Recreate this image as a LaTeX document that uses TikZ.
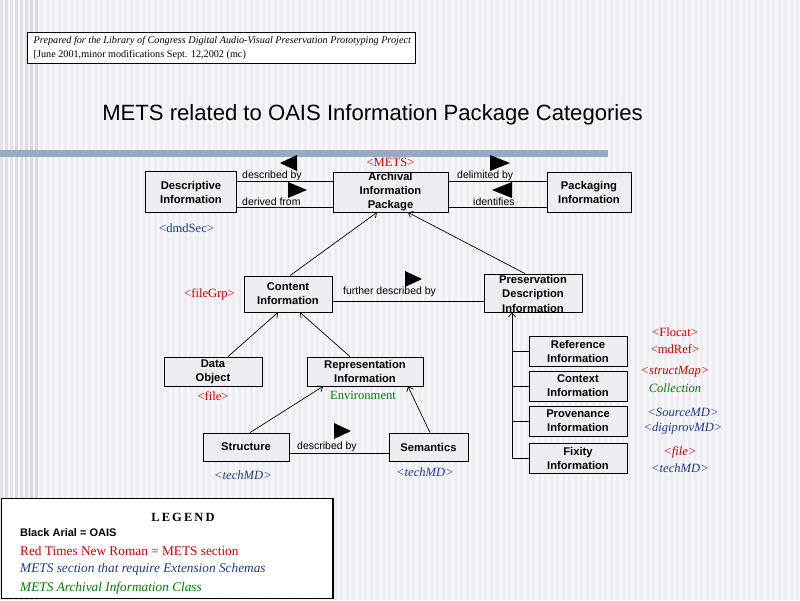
\documentclass[tikz,border=0pt]{standalone}
\usepackage{fontspec}
\setmainfont{Liberation Serif}
\newfontfamily\arialf{Liberation Sans}
\newfontfamily\tnrf{Liberation Serif}
\usetikzlibrary{arrows.meta}
\definecolor{bgbase}{RGB}{246,246,248}
\definecolor{bgstripe}{RGB}{238,238,242}
\definecolor{leftstripe}{RGB}{214,214,219}
\definecolor{barblue}{RGB}{150,170,200}
\definecolor{boxfill}{RGB}{238,238,242}
\definecolor{metsred}{RGB}{204,0,0}
\definecolor{extblue}{RGB}{31,56,140}
\definecolor{aicgreen}{RGB}{0,128,0}
\tikzset{
  oaisbox/.style={draw=black, fill=boxfill, line width=0.8pt, inner sep=0pt, align=center,
    font=\arialf\bfseries\fontsize{11.2}{14}\selectfont},
  boxtext/.style={inner sep=0pt, align=center, font=\arialf\bfseries\fontsize{11.2}{14.5}\selectfont},
  rellabel/.style={inner sep=0pt, anchor=west, font=\arialf\fontsize{10.5}{12}\selectfont},
  conn/.style={draw=black, line width=0.8pt},
  isa/.style={draw=black, line width=0.7pt, -{Straight Barb[length=4pt,width=7pt]}},
  dirtri/.style={fill=black},
  metsup/.style={inner sep=0pt, text=metsred, font=\tnrf\fontsize{12.6}{14}\selectfont},
  metsit/.style={inner sep=0pt, text=metsred, font=\tnrf\itshape\fontsize{12.6}{14}\selectfont},
  extit/.style={inner sep=0pt, text=extblue, font=\tnrf\itshape\fontsize{12.6}{14}\selectfont},
  extup/.style={inner sep=0pt, text=extblue, font=\tnrf\fontsize{12.6}{14}\selectfont},
  aicup/.style={inner sep=0pt, text=aicgreen, font=\tnrf\fontsize{12.6}{14}\selectfont},
  aicit/.style={inner sep=0pt, text=aicgreen, font=\tnrf\itshape\fontsize{12.6}{14}\selectfont},
}
\begin{document}
\begin{tikzpicture}[x=1pt,y=-1pt]
\useasboundingbox (0,0) rectangle (800,600);
% background
\fill[bgbase] (0,0) rectangle (800,600);
\foreach \x in {40,46,...,798} \fill[bgstripe] (\x,0) rectangle (\x+3,600);
\foreach \x/\c in {0/60,5/70,10/55,15/75,20/65,25/80,30/85,35/90}
  \fill[leftstripe!\c!bgbase] (\x,0) rectangle (\x+3,600);
% header box
\draw[fill=white, line width=0.8pt] (27,32) rectangle (415,63);
\node[inner sep=0pt, anchor=west, font=\tnrf\itshape\fontsize{10.2}{12}\selectfont] (hdr1) at (33.5,41.5)
  {Prepared for the Library of Congress Digital Audio-Visual Preservation Prototyping Project};
\node[inner sep=0pt, anchor=west, font=\tnrf\fontsize{10.2}{12}\selectfont] (hdr2) at (33.5,54.5)
  {[June 2001,minor modifications Sept. 12,2002 (mc)};
% title
\node[inner sep=0pt, font=\arialf\fontsize{22.1}{26}\selectfont] (title) at (372.5,115)
  {METS related to OAIS Information Package Categories};
% blue bar
\fill[barblue] (0,150) rectangle (608,157);
% boxes
\node[oaisbox, minimum width=91pt, minimum height=41pt] (desc) at (191,192) {Descriptive\\Information};
\node[oaisbox, minimum width=115pt, minimum height=40pt] (aip) at (390.5,192) {Archival\\Information\\Package};
\node[oaisbox, minimum width=84pt, minimum height=40pt] (pack) at (589,192) {Packaging\\Information};
\node[oaisbox, minimum width=88pt, minimum height=36pt] (ci) at (288,294) {Content\\Information};
\node[oaisbox, minimum width=98pt, minimum height=38pt] (pdi) at (533,293) {};
\node[boxtext] (pditext) at (533,293.5) {Preservation\\Description\\Information};
\node[oaisbox, minimum width=98pt, minimum height=29pt] (do) at (213,371.5) {Data\\Object};
\node[oaisbox, minimum width=116pt, minimum height=29pt] (ri) at (365,371.5) {Representation\\Information};
\node[oaisbox, minimum width=86pt, minimum height=28pt] (st) at (246,447) {Structure};
\node[oaisbox, minimum width=79pt, minimum height=28pt] (se) at (428.5,447) {Semantics};
\node[oaisbox, minimum width=98pt, minimum height=30pt] (ref) at (578,351) {Reference\\Information};
\node[oaisbox, minimum width=98pt, minimum height=30pt] (ctx) at (578,386) {Context\\Information};
\node[oaisbox, minimum width=98pt, minimum height=30pt] (prov) at (578,421) {Provenance\\Information};
\node[oaisbox, minimum width=98pt, minimum height=30pt] (fix) at (578,458) {Fixity\\Information};
% association lines
\draw[conn] ([yshift=11pt]desc.east) -- ([yshift=11pt]aip.west);
\draw[conn] ([yshift=-15pt]desc.east) -- ([yshift=-15pt]aip.west);
\draw[conn] ([yshift=11pt]aip.east) -- ([yshift=11pt]pack.west);
\draw[conn] ([yshift=-15pt]aip.east) -- ([yshift=-15pt]pack.west);
\draw[conn] ([yshift=-7pt]ci.east) -- ([yshift=-8pt]pdi.west);
\draw[conn] ([yshift=-6pt]st.east) -- ([yshift=-6pt]se.west);
% relation labels
\node[rellabel] (lbdesc) at (242,175.5) {described by};
\node[rellabel] (lbderiv) at (242,202) {derived from};
\node[rellabel] (lbdelim) at (457,175.5) {delimited by};
\node[rellabel] (lbident) at (473,202) {identifies};
\node[rellabel] (lbfurther) at (343,292) {further described by};
\node[rellabel] (lbdesc2) at (297,447) {described by};
% direction triangles
\fill[dirtri] (280,163) -- (297,155) -- (297,171) -- cycle;
\fill[dirtri] (288,182) -- (288,198) -- (307,190) -- cycle;
\fill[dirtri] (490,155) -- (490,171) -- (510,163) -- cycle;
\fill[dirtri] (492,190) -- (512,182) -- (512,198) -- cycle;
\fill[dirtri] (405,271) -- (405,287) -- (422,279) -- cycle;
\fill[dirtri] (334,423) -- (334,439) -- (351,431) -- cycle;
% generalisation / aggregation arrows
\draw[isa] ([xshift=2pt]ci.north) -- ([xshift=-13.5pt]aip.south);
\draw[isa] ([xshift=-8pt]pdi.north) -- ([xshift=17.5pt]aip.south);
\draw[isa] ([xshift=15pt]do.north) -- ([xshift=-10pt]ci.south);
\draw[isa] ([xshift=-15pt]ri.north) -- ([xshift=12pt]ci.south);
\draw[isa] ([xshift=4pt]st.north) -- ([xshift=-42pt]ri.south);
\draw[isa] ([xshift=1.5pt]se.north) -- ([xshift=43pt]ri.south);
% tree under PDI
\coordinate (trunk) at (512,458);
\draw[isa] (fix.west) -| ([xshift=-21pt]pdi.south);
\draw[conn, line width=0.7pt] (ref.west) -- (ref.west -| trunk);
\draw[conn, line width=0.7pt] (ctx.west) -- (ctx.west -| trunk);
\draw[conn, line width=0.7pt] (prov.west) -- (prov.west -| trunk);
% METS labels
\node[metsup] (mets) at (390.5,162) {<METS>};
\node[extup, anchor=west] (dmd) at (159,228) {<dmdSec>};
\node[metsup, anchor=west] (filegrp) at (184,294) {<fileGrp>};
\node[metsup] (file1) at (213,396) {<file>};
\node[aicup] (env) at (363,395.5) {Environment};
\node[extit] (tech1) at (243,475) {<techMD>};
\node[extit] (tech2) at (425,472) {<techMD>};
\node[metsup] (flocat) at (675,332) {<Flocat>};
\node[metsup] (mdref) at (675,349) {<mdRef>};
\node[metsit] (smap) at (675,372) {<structMap>};
\node[aicit] (coll) at (675,388.5) {Collection};
\node[extit] (src) at (683,412) {<SourceMD>};
\node[extit] (dprov) at (683,428) {<digiprovMD>};
\node[metsit] (file2) at (680,452) {<file>};
\node[extit] (tech3) at (680,468) {<techMD>};
% legend
\draw[fill=white, line width=1.6pt] (1.5,498.5) rectangle (333,598.5);
\node[inner sep=0pt, font=\tnrf\bfseries\fontsize{12.5}{14}\selectfont] (leg) at (183,517) {L\,E\,G\,E\,N\,D};
\node[inner sep=0pt, anchor=west, font=\arialf\bfseries\fontsize{11}{12}\selectfont] (leg1) at (20,532.5) {Black Arial = OAIS};
\node[inner sep=0pt, anchor=west, text=metsred, font=\tnrf\fontsize{13.3}{14}\selectfont] (leg2) at (20,551) {Red Times New Roman = METS section};
\node[inner sep=0pt, anchor=west, text=extblue, font=\tnrf\itshape\fontsize{13.3}{14}\selectfont] (leg3) at (20,569.5) {METS section that require Extension Schemas};
\node[inner sep=0pt, anchor=west, text=aicgreen, font=\tnrf\itshape\fontsize{13.3}{14}\selectfont] (leg4) at (20,588) {METS Archival Information Class};
\end{tikzpicture}
\end{document}
